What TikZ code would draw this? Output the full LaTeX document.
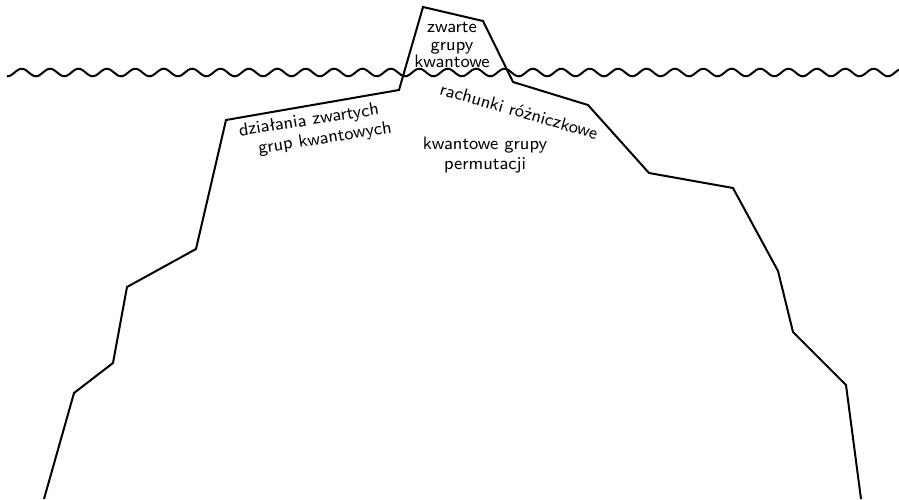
\documentclass[tikz,border=0pt]{standalone}
\usepackage{fontspec}
\usepackage{tikz}
\usetikzlibrary{positioning}
\tikzset{
  berg/.style  = {line width=1pt, line join=miter},
  sea/.style   = {line width=1pt},
  lbl/.style   = {font=\sffamily\fontsize{9}{9.6}\selectfont, align=center, inner sep=0pt},
}

\begin{document}
\begin{tikzpicture}[x=0.5pt,y=-0.5pt]
  \useasboundingbox (0,0) rectangle (899,499);
  % water line
  \draw[sea,domain=7:899,samples=400,smooth] plot (\x,{72.5-3.8*cos(12.676*(\x-21.7))});
  % iceberg outline
  \draw[berg] (44,499) -- (74,393) -- (113,363) -- (127,287) -- (196,249) -- (226,120)
    -- (399,90) -- (423,7) -- (483,21) -- (513,82) -- (588,105) -- (649,173)
    -- (733,188) -- (778,271) -- (793,332) -- (846,385) -- (861,499);
  % labels
  \node[lbl,font=\sffamily\fontsize{9}{8.8}\selectfont] (zwarte) at (452,45) {zwarte\\grupy\\kwantowe};
  \node[lbl,rotate=9] (dzial) at (309,121) {działania zwartych};
  \node[lbl,rotate=9] (grup) at (325,139) {grup kwantowych};
  \node[lbl,rotate=-16] (rach) at (519,111) {rachunki różniczkowe};
  \node[lbl] (perm) at (485,155) {kwantowe grupy\\permutacji};
\end{tikzpicture}
\end{document}
